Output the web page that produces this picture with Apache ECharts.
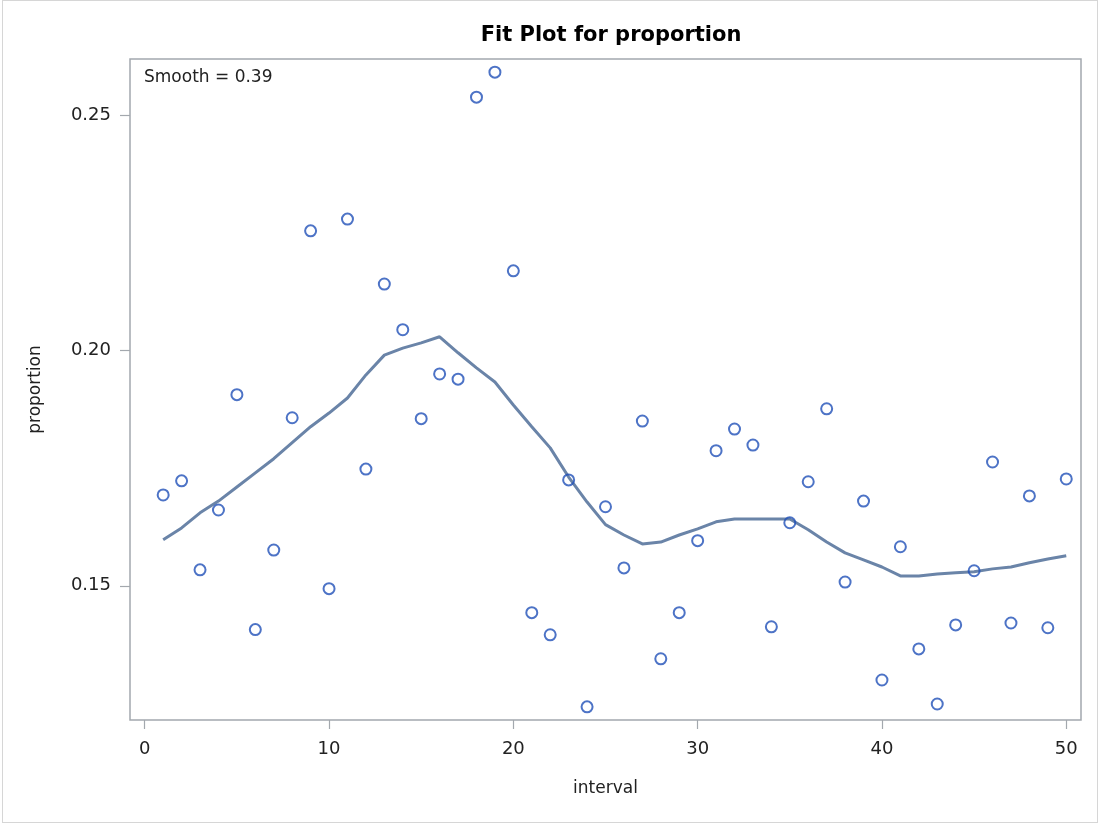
<!DOCTYPE html>
<html>
<head>
<meta charset="utf-8">
<script src="https://cdn.jsdelivr.net/npm/echarts@6/dist/echarts.min.js"></script>
<style>
html,body{margin:0;padding:0;background:#fff;}
#frame{position:absolute;left:2px;top:0px;width:1094px;height:821px;border:1px solid #d6d6d6;}
#chart{position:absolute;left:0;top:0;width:1099px;height:825px;}
</style>
</head>
<body>
<div id="frame"></div>
<div id="chart"></div>
<script>
// ---- data ----
const intervals = [1,2,3,4,5,6,7,8,9,10,11,12,13,14,15,16,17,18,19,20,21,22,23,24,25,26,27,28,29,30,31,32,33,34,35,36,37,38,39,40,41,42,43,44,45,46,47,48,49,50];
const proportion = [0.1693,0.1723,0.1534,0.1661,0.1906,0.1407,0.1576,0.1857,0.2254,0.1494,
                    0.2279,0.1748,0.2141,0.2044,0.1855,0.1950,0.1939,0.2538,0.2591,0.2169,
                    0.1443,0.1396,0.1725,0.1243,0.1668,0.1538,0.1850,0.1345,0.1443,0.1596,
                    0.1787,0.1833,0.1799,0.1413,0.1634,0.1721,0.1876,0.1508,0.1680,0.1300,
                    0.1583,0.1366,0.1249,0.1417,0.1532,0.1763,0.1421,0.1691,0.1411,0.1727];
const smoothFit = [0.1598,0.1623,0.1655,0.1680,0.1710,0.1740,0.1770,0.1804,0.1838,0.1867,
                   0.1899,0.1948,0.1990,0.2005,0.2016,0.2029,0.1995,0.1963,0.1933,0.1884,
                   0.1838,0.1793,0.1731,0.1678,0.1630,0.1608,0.1589,0.1593,0.1608,0.1621,
                   0.1636,0.1642,0.1642,0.1642,0.1642,0.1619,0.1593,0.1570,0.1555,0.1540,
                   0.1521,0.1521,0.1525,0.1528,0.1530,0.1536,0.1540,0.1549,0.1557,0.1564];
const xTicks = [0,10,20,30,40,50];
const yTicks = [0.15,0.20,0.25];
const titleText = 'Fit Plot for proportion';
const smoothLabel = 'Smooth = 0.39';

const font = '"DejaVu Sans", "Liberation Sans", sans-serif';
const chart = echarts.init(document.getElementById('chart'), null, {renderer:'canvas'});
const axisGray = '#a3a8ae';
chart.setOption({
  animation:false,
  backgroundColor:'transparent',
  title:{
    text:titleText,
    left:606, top:20, textAlign:'center',
    textStyle:{fontFamily:font, fontWeight:'bold', fontSize:21, color:'#000'}
  },
  graphic:[{
    type:'text', left:144, top:69,
    style:{text:smoothLabel, fontFamily:font, fontSize:17, fill:'#222'}
  }],
  grid:{left:130, right:18, top:59, bottom:105, show:true, borderColor:axisGray, borderWidth:1.5, backgroundColor:'#fff'},
  xAxis:{
    type:'value', min:-0.8, max:50.8,
    name:'interval', nameLocation:'middle', nameGap:60,
    nameTextStyle:{fontFamily:font, fontSize:17, color:'#222'},
    axisLine:{show:false, onZero:false},
    splitLine:{show:false},
    axisTick:{show:true, length:9, customValues:xTicks, lineStyle:{color:axisGray, width:1.2}},
    axisLabel:{customValues:xTicks, margin:20, fontFamily:font, fontSize:18, color:'#222'}
  },
  yAxis:{
    type:'value', min:0.1215, max:0.2619,
    name:'proportion', nameLocation:'middle', nameGap:86,
    nameTextStyle:{fontFamily:font, fontSize:17, color:'#222'},
    axisLine:{show:false, onZero:false},
    splitLine:{show:false},
    axisTick:{show:true, length:10, customValues:yTicks, lineStyle:{color:axisGray, width:1.2}},
    axisLabel:{customValues:yTicks, margin:19, fontFamily:font, fontSize:18, color:'#222',
               formatter:v=>Number(v).toFixed(2)}
  },
  series:[
    {
      type:'line', name:'Smooth',
      data:intervals.map((x,i)=>[x, smoothFit[i]]),
      showSymbol:false, symbol:'none',
      lineStyle:{color:'#6a84a8', width:3},
      z:2
    },
    {
      type:'scatter', name:'proportion',
      data:intervals.map((x,i)=>[x, proportion[i]]),
      symbol:'circle', symbolSize:11,
      itemStyle:{color:'rgba(255,255,255,0)', borderColor:'#2150b8', borderWidth:2},
      z:3
    }
  ]
});
</script>
</body>
</html>
